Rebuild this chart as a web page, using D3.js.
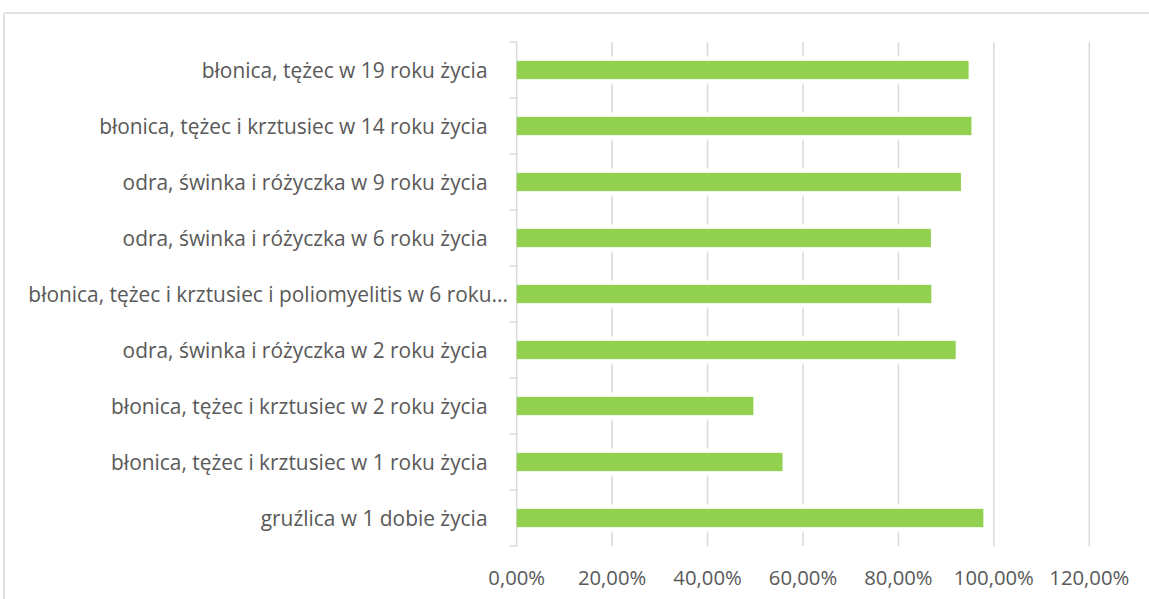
<!DOCTYPE html>
<html>
<head>
<meta charset="utf-8">
<script src="https://cdn.jsdelivr.net/npm/d3@7"></script>
<style>
  html, body { margin: 0; padding: 0; background: #fff; }
  svg { display: block; }
  text { font-family: "Open Sans", Lato, sans-serif; fill: #595959; }
</style>
</head>
<body>
<svg id="chart" width="1149" height="599"></svg>
<script>
const categories = [
  "błonica, tężec w 19 roku życia",
  "błonica, tężec i krztusiec w 14 roku życia",
  "odra, świnka i różyczka w 9 roku życia",
  "odra, świnka i różyczka w 6 roku życia",
  "błonica, tężec i krztusiec i poliomyelitis w 6 roku...",
  "odra, świnka i różyczka w 2 roku życia",
  "błonica, tężec i krztusiec w 2 roku życia",
  "błonica, tężec i krztusiec w 1 roku życia",
  "gruźlica w 1 dobie życia"
];
const values = [0.947, 0.953, 0.931, 0.868, 0.869, 0.920, 0.496, 0.557, 0.978];
const xTicks = [0, 0.2, 0.4, 0.6, 0.8, 1.0, 1.2];
const truncatedLabel = "błonica, tężec i krztusiec i poliomyelitis w 6 roku...";

const svg = d3.select("#chart");
const grid = "#d9d9d9";

// outer chart border (top + left visible)
svg.append("line").attr("x1", 4).attr("x2", 1149).attr("y1", 13).attr("y2", 13)
  .attr("stroke", grid).attr("stroke-width", 1.5);
svg.append("line").attr("x1", 4).attr("x2", 4).attr("y1", 13).attr("y2", 599)
  .attr("stroke", grid).attr("stroke-width", 1.5);

const x = d3.scaleLinear().domain([0, 1.2]).range([516.7, 1089.3]);
const y = d3.scaleBand().domain(categories).range([42, 546])
  .paddingInner(0.673).paddingOuter(0.3365);

const fmt = v => (v * 100).toFixed(2).replace(".", ",") + "%";

// vertical gridlines
svg.append("g").selectAll("line").data(xTicks.slice(1)).join("line")
  .attr("x1", d => x(d)).attr("x2", d => x(d))
  .attr("y1", 42).attr("y2", 546)
  .attr("stroke", grid).attr("stroke-width", 1.5);

// bar white halos
const pad = 4.3;
svg.append("g").selectAll("rect").data(values).join("rect")
  .attr("x", x(0)).attr("width", d => x(d) - x(0) + 1)
  .attr("y", (d, i) => y(categories[i]) - pad)
  .attr("height", y.bandwidth() + 2 * pad)
  .attr("fill", "#fff");

// axis line with tick marks
const yAxisG = svg.append("g");
yAxisG.append("line").attr("x1", x(0)).attr("x2", x(0)).attr("y1", 42).attr("y2", 546)
  .attr("stroke", grid).attr("stroke-width", 1.5);
const step = y.step();
yAxisG.selectAll("line.tick").data(d3.range(categories.length + 1)).join("line")
  .attr("class", "tick")
  .attr("x1", x(0) - 7).attr("x2", x(0))
  .attr("y1", i => 42 + i * step).attr("y2", i => 42 + i * step)
  .attr("stroke", grid).attr("stroke-width", 1.5);

// bars
svg.append("g").selectAll("rect").data(values).join("rect")
  .attr("x", x(0)).attr("width", d => x(d) - x(0))
  .attr("y", (d, i) => y(categories[i]))
  .attr("height", y.bandwidth())
  .attr("fill", "#92d050");

// category labels
svg.append("g").selectAll("text").data(categories).join("text")
  .attr("x", d => d === truncatedLabel ? 508 : 487.5)
  .attr("y", d => y(d) + y.bandwidth() / 2)
  .attr("text-anchor", "end")
  .attr("dominant-baseline", "central")
  .attr("font-size", 20.9)
  .text(d => d);

// x tick labels
svg.append("g").selectAll("text").data(xTicks).join("text")
  .attr("x", d => x(d))
  .attr("y", 577)
  .attr("text-anchor", "middle")
  .attr("dominant-baseline", "central")
  .attr("font-size", 20.3)
  .text(fmt);
</script>
</body>
</html>
